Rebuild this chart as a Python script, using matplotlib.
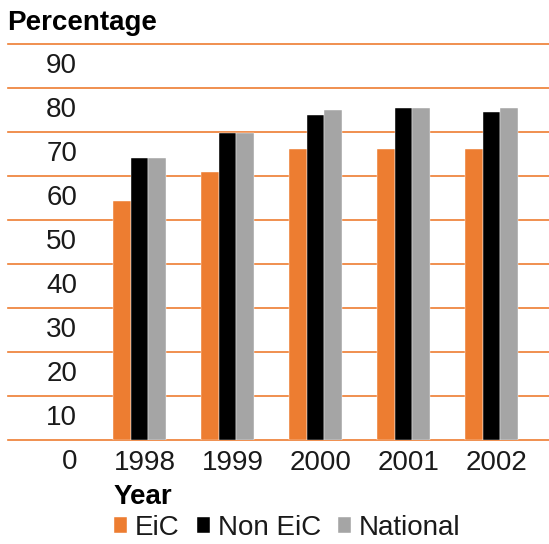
import numpy as np
import matplotlib
matplotlib.use("Agg")
from matplotlib import pyplot as plt
from matplotlib import transforms

plt.rcParams['font.family'] = ['Liberation Sans', 'DejaVu Sans']

# data
years = ['1998', '1999', '2000', '2001', '2002']
eic = [54.4, 61.0, 66.2, 66.2, 66.2]
non_eic = [64.2, 69.8, 73.9, 75.4, 74.5]
national = [64.2, 69.8, 75.0, 75.4, 75.4]
series_names = ['EiC', 'Non EiC', 'National']
yticks = [0, 10, 20, 30, 40, 50, 60, 70, 80, 90]

orange = '#ED7D31'
grey = '#A5A5A5'
txt = '#1a1a1a'

fig = plt.figure(figsize=(5.49, 5.44), dpi=100)
ax = fig.add_axes([8/549, (544-440.3)/544, 541/549, (440.3-44)/544])

x = np.arange(len(years))
w = 0.198
colors = [orange, 'black', grey]
for i, (vals, c, name) in enumerate(zip([eic, non_eic, national], colors, series_names)):
    ax.bar(x + (i-1)*w, vals, w, color=c, label=name, zorder=2,
           edgecolor='white', linewidth=0.3)

# orange gridlines running across whole width
for v in yticks:
    ax.axhline(v, color=orange, lw=1.2, zorder=1, clip_on=False)
    # value labels sit in the gap below each line
    ax.text(-0.71, v - 5, str(v), ha='right', va='center', fontsize=20, color=txt)

ax.set_xlim(-1.494, 4.653)
ax.set_ylim(0, 90)
ax.set_yticks([])
ax.set_xticks(x, years)
ax.tick_params(axis='x', length=0, pad=7, labelsize=20, labelcolor=txt)
off = transforms.ScaledTranslation(5/100, 0, fig.dpi_scale_trans)
for lab in ax.get_xticklabels():
    lab.set_transform(lab.get_transform() + off)
for s in ax.spines.values():
    s.set_visible(False)

fig.text(7.3/549, (544-30)/544, 'Percentage', fontsize=20, fontweight='bold',
         ha='left', va='baseline', color='black')
fig.text(114/549, (544-504)/544, 'Year', fontsize=20, fontweight='bold',
         ha='left', va='baseline', color='black')

fig.legend(loc='center left', bbox_to_anchor=(114/549, (544-528)/544), ncol=3,
           frameon=False, fontsize=20, handlelength=0.47, handleheight=0.47,
           handletextpad=0.29, columnspacing=0.6, borderpad=0, borderaxespad=0,
           labelcolor=txt)

fig.savefig('out.png', dpi=100)
